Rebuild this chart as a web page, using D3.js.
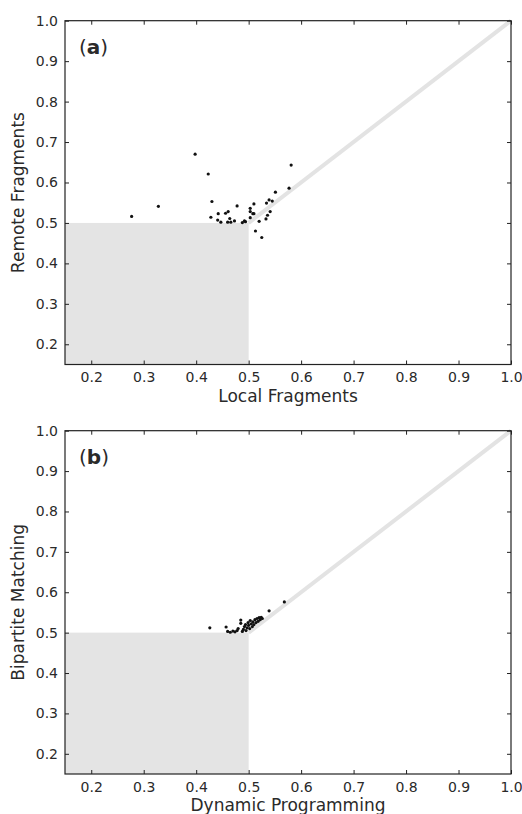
<!DOCTYPE html>
<html>
<head>
<meta charset="utf-8">
<script src="https://cdn.jsdelivr.net/npm/d3@7"></script>
<style>
  body { margin: 0; background: #fff; }
  text { font-family: "DejaVu Sans", sans-serif; fill: #2a2a2a; }
</style>
</head>
<body>
<div id="chart"></div>
<script>
// panel (a): local vs remote fragments
var localFrag  = [0.277, 0.328, 0.398, 0.423, 0.581, 0.430, 0.428, 0.442, 0.441, 0.447, 0.456, 0.461,
                  0.464, 0.460, 0.466, 0.473, 0.478, 0.488, 0.492, 0.494, 0.503, 0.503, 0.508, 0.510,
                  0.510, 0.503, 0.520, 0.513, 0.525, 0.534, 0.539, 0.545, 0.551, 0.577, 0.541, 0.536, 0.533]
var remoteFrag = [0.516, 0.541, 0.670, 0.621, 0.643, 0.553, 0.514, 0.523, 0.507, 0.502, 0.524, 0.528,
                  0.511, 0.502, 0.502, 0.505, 0.542, 0.501, 0.505, 0.503, 0.536, 0.528, 0.523, 0.523,
                  0.547, 0.513, 0.504, 0.480, 0.464, 0.549, 0.557, 0.554, 0.576, 0.586, 0.528, 0.519, 0.510]

// panel (b): dynamic programming vs bipartite matching
var dynProg   = [0.426, 0.457, 0.460, 0.465, 0.470, 0.474, 0.478, 0.480, 0.485, 0.485, 0.488, 0.490,
                 0.492, 0.494, 0.495, 0.497, 0.499, 0.500, 0.502, 0.503, 0.505, 0.507, 0.508, 0.510,
                 0.512, 0.514, 0.516, 0.518, 0.520, 0.522, 0.524, 0.526, 0.539, 0.568]
var bipartite = [0.512, 0.514, 0.503, 0.501, 0.504, 0.502, 0.505, 0.510, 0.531, 0.523, 0.503, 0.508,
                 0.515, 0.520, 0.505, 0.512, 0.525, 0.518, 0.510, 0.530, 0.522, 0.515, 0.527, 0.520,
                 0.532, 0.525, 0.535, 0.528, 0.537, 0.532, 0.538, 0.535, 0.554, 0.576]

var ticks = [0.2, 0.3, 0.4, 0.5, 0.6, 0.7, 0.8, 0.9, 1.0]
var domain = [0.15, 1.0]
var cutoff = 0.5

var panels = [
  {tag: 'a', xs: localFrag, ys: remoteFrag, xLabel: 'Local Fragments', yLabel: 'Remote Fragments', top: 20.7, bottom: 364.5},
  {tag: 'b', xs: dynProg, ys: bipartite, xLabel: 'Dynamic Programming', yLabel: 'Bipartite Matching', top: 430.7, bottom: 774}
]

var width = 522, height = 814
var left = 65, right = 511

var svg = d3.select('#chart').append('svg')
  .attr('width', width).attr('height', height)

var x = d3.scaleLinear().domain(domain).range([left, right])

panels.forEach(function(p){
  var y = d3.scaleLinear().domain(domain).range([p.bottom, p.top])
  var g = svg.append('g')

  // shaded lower-left box
  g.append('rect')
    .attr('x', x(domain[0])).attr('y', y(cutoff))
    .attr('width', x(cutoff) - x(domain[0]))
    .attr('height', y(domain[0]) - y(cutoff))
    .attr('fill', '#e4e4e4')

  // diagonal
  g.append('line')
    .attr('x1', x(cutoff)).attr('y1', y(cutoff))
    .attr('x2', x(1)).attr('y2', y(1))
    .attr('stroke', '#e3e3e3').attr('stroke-width', 4)

  var pts = p.xs.map(function(d, i){ return [d, p.ys[i]] })
  g.selectAll('circle.pt').data(pts).enter().append('circle')
    .attr('class', 'pt')
    .attr('cx', function(d){ return x(d[0]) })
    .attr('cy', function(d){ return y(d[1]) })
    .attr('r', 1.6)
    .attr('fill', '#111')

  // axes, ticks inside on all sides (matplotlib classic)
  var bottomAx = g.append('g').attr('transform', 'translate(0,' + p.bottom + ')')
    .call(d3.axisBottom(x).tickValues(ticks).tickSizeInner(-4).tickSizeOuter(0).tickPadding(8).tickFormat(d3.format('.1f')))
  var topAx = g.append('g').attr('transform', 'translate(0,' + p.top + ')')
    .call(d3.axisTop(x).tickValues(ticks).tickSizeInner(-4).tickSizeOuter(0).tickFormat(''))
  var leftAx = g.append('g').attr('transform', 'translate(' + left + ',0)')
    .call(d3.axisLeft(y).tickValues(ticks).tickSizeInner(-4).tickSizeOuter(0).tickPadding(7).tickFormat(d3.format('.1f')))
  var rightAx = g.append('g').attr('transform', 'translate(' + right + ',0)')
    .call(d3.axisRight(y).tickValues(ticks).tickSizeInner(-4).tickSizeOuter(0).tickFormat(''))

  ;[bottomAx, topAx, leftAx, rightAx].forEach(function(a){
    a.select('.domain').remove()
    a.selectAll('line').attr('stroke', '#222')
    a.selectAll('text').attr('font-size', 14).attr('fill', '#2a2a2a').attr('font-family', '"DejaVu Sans", sans-serif')
  })

  g.append('rect')
    .attr('x', left).attr('y', p.top)
    .attr('width', right - left).attr('height', p.bottom - p.top)
    .attr('fill', 'none').attr('stroke', '#222').attr('stroke-width', 1.2)

  // panel tag
  var tag = g.append('text').attr('x', 79).attr('y', p.top + 33).attr('font-size', 20)
  tag.append('tspan').text('(')
  tag.append('tspan').attr('font-weight', 'bold').text(p.tag)
  tag.append('tspan').text(')')

  g.append('text')
    .attr('x', (left + right) / 2).attr('y', p.bottom + 37)
    .attr('text-anchor', 'middle').attr('font-size', 17)
    .text(p.xLabel)

  g.append('text')
    .attr('transform', 'translate(24,' + ((p.top + p.bottom) / 2) + ') rotate(-90)')
    .attr('text-anchor', 'middle').attr('font-size', 17)
    .text(p.yLabel)
})
</script>
</body>
</html>
